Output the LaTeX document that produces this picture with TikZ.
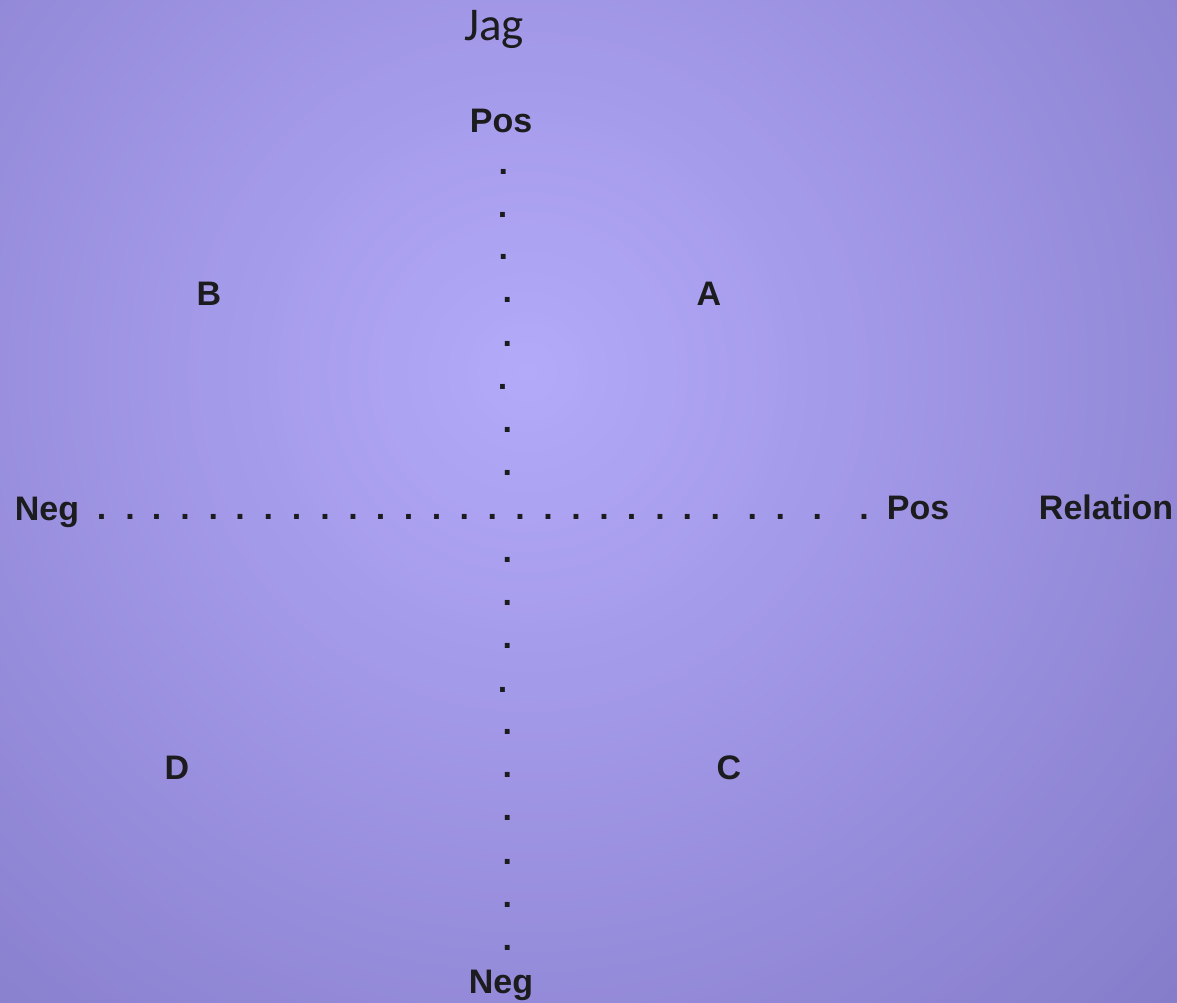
\documentclass[tikz,border=0pt]{standalone}
\usepackage{fontspec}
\setmainfont{Liberation Sans}
\newfontfamily\titlefont{Carlito}

\definecolor{ink}{RGB}{28,28,30}
\definecolor{bgin}{RGB}{180,170,250}
\definecolor{bgout}{RGB}{133,124,202}

\begin{document}
\begin{tikzpicture}[x=1pt,y=-1pt,
  lbl/.style={font=\fontsize{34}{40}\selectfont\bfseries, text=ink, inner sep=0pt, anchor=base},
  title/.style={font=\titlefont\fontsize{47}{56}\selectfont, text=ink, inner sep=0pt, anchor=base},
  dotmark/.style={font=\fontsize{34}{40}\selectfont\bfseries, text=ink, inner sep=0pt, anchor=center}]

\useasboundingbox (0,0) rectangle (1177,1002);

% soft radial glow behind the chart, built from concentric discs
\begin{scope}
  \clip (0,0) rectangle (1177,1002);
  \fill[bgout] (0,0) rectangle (1177,1002);
  \foreach \i in {0,...,90} {
    \pgfmathsetmacro\rad{910-10*\i}
    \pgfmathtruncatemacro\pct{round(\rad/9.1)}
    \fill[bgout!\pct!bgin] (528,372) circle[radius=\rad pt];
  }
\end{scope}

% title and axis end labels
\node[title] (jag)  at (494,40)   {Jag};
\node[lbl]   (posT) at (501,132)  {Pos};
\node[lbl]   (negB) at (501,993)  {Neg};
\node[lbl]   (negL) at (47,520)   {Neg};
\node[lbl]   (posR) at (918,519)  {Pos};
\node[lbl]   (rel)  at (1106,519) {Relation};

% quadrant letters
\node[lbl] (qA) at (709,305) {A};
\node[lbl] (qB) at (209,305) {B};
\node[lbl] (qC) at (729,779) {C};
\node[lbl] (qD) at (177,779) {D};

% vertical dotted axis
\foreach \x/\y [count=\i] in {503.3/172.3, 502.7/215, 503.3/257, 507.3/300,
    507.3/344, 502.7/387, 507.3/430, 507.3/473,
    507.3/560, 507.3/603, 507.3/646, 502.7/690, 507.3/732,
    507.3/775, 507.3/818, 507.3/862, 507.3/905, 507.3/948}
  \node[dotmark] (v\i) at (\x,\y) {.};

% horizontal dotted axis
\foreach \x [count=\i] in {101.7,130,156.7,185,213.3,240,268.3,296.7,325,353,
    380.7,408.7,436.7,464.3,492.3,520,548,576,604,631.7,660,687.3,715.3,
    752.3,780.3,817.3,864}
  \node[dotmark] (h\i) at (\x,516.7) {.};

\end{tikzpicture}
\end{document}
